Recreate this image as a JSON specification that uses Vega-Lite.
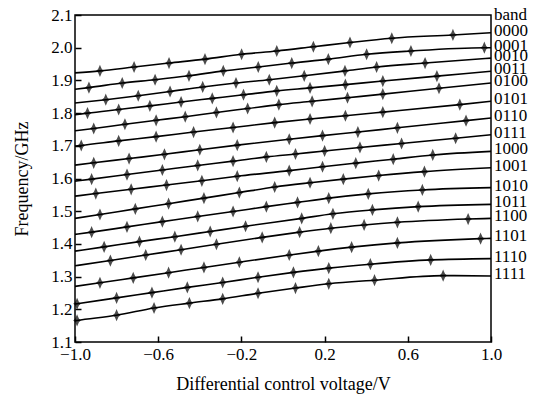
{
  "$schema": "https://vega.github.io/schema/vega-lite/v6.json",
  "autosize": "none",
  "width": 416,
  "height": 327,
  "padding": {"left": 75, "top": 15, "right": 50, "bottom": 58},
  "background": "white",
  "config": {
    "view": {"stroke": "black", "strokeWidth": 1.5},
    "font": "Liberation Serif"
  },
  "data": {"values": [
    {"b":"0000","x":-1,"y":1.923},{"b":"0000","x":-0.88,"y":1.929},{"b":"0000","x":-0.716,"y":1.941},{"b":"0000","x":-0.548,"y":1.953},{"b":"0000","x":-0.375,"y":1.965},{"b":"0000","x":-0.199,"y":1.98},{"b":"0000","x":-0.03,"y":1.99},{"b":"0000","x":0.146,"y":2.003},{"b":"0000","x":0.322,"y":2.016},{"b":"0000","x":0.523,"y":2.029},{"b":"0000","x":0.817,"y":2.039},{"b":"0000","x":1,"y":2.046},
    {"b":"0001","x":-1,"y":1.873},{"b":"0001","x":-0.933,"y":1.878},{"b":"0001","x":-0.773,"y":1.892},{"b":"0001","x":-0.615,"y":1.902},{"b":"0001","x":-0.452,"y":1.914},{"b":"0001","x":-0.287,"y":1.929},{"b":"0001","x":-0.119,"y":1.941},{"b":"0001","x":0.042,"y":1.953},{"b":"0001","x":0.218,"y":1.965},{"b":"0001","x":0.402,"y":1.98},{"b":"0001","x":0.615,"y":1.99},{"b":"0001","x":0.968,"y":2.0},{"b":"0001","x":1,"y":2.0},
    {"b":"0010","x":-1,"y":1.831},{"b":"0010","x":-0.852,"y":1.841},{"b":"0010","x":-0.696,"y":1.853},{"b":"0010","x":-0.543,"y":1.866},{"b":"0010","x":-0.386,"y":1.88},{"b":"0010","x":-0.226,"y":1.892},{"b":"0010","x":-0.066,"y":1.902},{"b":"0010","x":0.102,"y":1.914},{"b":"0010","x":0.298,"y":1.929},{"b":"0010","x":0.45,"y":1.941},{"b":"0010","x":0.683,"y":1.953},{"b":"0010","x":1,"y":1.968},
    {"b":"0011","x":-1,"y":1.795},{"b":"0011","x":-0.94,"y":1.8},{"b":"0011","x":-0.79,"y":1.811},{"b":"0011","x":-0.64,"y":1.822},{"b":"0011","x":-0.49,"y":1.834},{"b":"0011","x":-0.34,"y":1.845},{"b":"0011","x":-0.19,"y":1.856},{"b":"0011","x":-0.03,"y":1.868},{"b":"0011","x":0.13,"y":1.877},{"b":"0011","x":0.3,"y":1.887},{"b":"0011","x":0.48,"y":1.898},{"b":"0011","x":0.74,"y":1.913},{"b":"0011","x":1,"y":1.928},
    {"b":"0100","x":-1,"y":1.746},{"b":"0100","x":-0.91,"y":1.753},{"b":"0100","x":-0.76,"y":1.766},{"b":"0100","x":-0.61,"y":1.778},{"b":"0100","x":-0.47,"y":1.789},{"b":"0100","x":-0.32,"y":1.802},{"b":"0100","x":-0.17,"y":1.814},{"b":"0100","x":-0.02,"y":1.826},{"b":"0100","x":0.14,"y":1.836},{"b":"0100","x":0.31,"y":1.847},{"b":"0100","x":0.48,"y":1.858},{"b":"0100","x":0.75,"y":1.876},{"b":"0100","x":1,"y":1.892},
    {"b":"0101","x":-1,"y":1.699},{"b":"0101","x":-0.97,"y":1.701},{"b":"0101","x":-0.79,"y":1.715},{"b":"0101","x":-0.61,"y":1.728},{"b":"0101","x":-0.43,"y":1.742},{"b":"0101","x":-0.24,"y":1.756},{"b":"0101","x":-0.04,"y":1.771},{"b":"0101","x":0.13,"y":1.782},{"b":"0101","x":0.3,"y":1.792},{"b":"0101","x":0.48,"y":1.803},{"b":"0101","x":0.85,"y":1.826},{"b":"0101","x":1,"y":1.836},
    {"b":"0110","x":-1,"y":1.641},{"b":"0110","x":-0.91,"y":1.648},{"b":"0110","x":-0.74,"y":1.661},{"b":"0110","x":-0.57,"y":1.674},{"b":"0110","x":-0.4,"y":1.688},{"b":"0110","x":-0.22,"y":1.702},{"b":"0110","x":0.03,"y":1.72},{"b":"0110","x":0.19,"y":1.731},{"b":"0110","x":0.36,"y":1.742},{"b":"0110","x":0.55,"y":1.755},{"b":"0110","x":0.88,"y":1.777},{"b":"0110","x":1,"y":1.785},
    {"b":"0111","x":-1,"y":1.592},{"b":"0111","x":-0.92,"y":1.598},{"b":"0111","x":-0.75,"y":1.612},{"b":"0111","x":-0.58,"y":1.626},{"b":"0111","x":-0.41,"y":1.64},{"b":"0111","x":-0.24,"y":1.653},{"b":"0111","x":-0.08,"y":1.666},{"b":"0111","x":0.06,"y":1.675},{"b":"0111","x":0.2,"y":1.684},{"b":"0111","x":0.37,"y":1.695},{"b":"0111","x":0.57,"y":1.707},{"b":"0111","x":0.83,"y":1.723},{"b":"0111","x":1,"y":1.734},
    {"b":"1000","x":-1,"y":1.546},{"b":"1000","x":-0.9,"y":1.554},{"b":"1000","x":-0.73,"y":1.567},{"b":"1000","x":-0.56,"y":1.58},{"b":"1000","x":-0.39,"y":1.593},{"b":"1000","x":-0.22,"y":1.607},{"b":"1000","x":0.03,"y":1.624},{"b":"1000","x":0.19,"y":1.636},{"b":"1000","x":0.35,"y":1.647},{"b":"1000","x":0.53,"y":1.659},{"b":"1000","x":0.72,"y":1.672},{"b":"1000","x":1,"y":1.683},
    {"b":"1001","x":-1,"y":1.478},{"b":"1001","x":-0.88,"y":1.49},{"b":"1001","x":-0.71,"y":1.507},{"b":"1001","x":-0.55,"y":1.523},{"b":"1001","x":-0.38,"y":1.54},{"b":"1001","x":-0.21,"y":1.557},{"b":"1001","x":-0.04,"y":1.574},{"b":"1001","x":0.13,"y":1.587},{"b":"1001","x":0.29,"y":1.598},{"b":"1001","x":0.46,"y":1.609},{"b":"1001","x":0.68,"y":1.621},{"b":"1001","x":1,"y":1.633},
    {"b":"1010","x":-1,"y":1.429},{"b":"1010","x":-0.92,"y":1.436},{"b":"1010","x":-0.75,"y":1.452},{"b":"1010","x":-0.58,"y":1.468},{"b":"1010","x":-0.41,"y":1.484},{"b":"1010","x":-0.24,"y":1.499},{"b":"1010","x":-0.08,"y":1.514},{"b":"1010","x":0.07,"y":1.527},{"b":"1010","x":0.22,"y":1.54},{"b":"1010","x":0.41,"y":1.553},{"b":"1010","x":0.67,"y":1.565},{"b":"1010","x":1,"y":1.572},
    {"b":"1011","x":-1,"y":1.378},{"b":"1011","x":-0.86,"y":1.391},{"b":"1011","x":-0.69,"y":1.407},{"b":"1011","x":-0.52,"y":1.422},{"b":"1011","x":-0.35,"y":1.438},{"b":"1011","x":-0.18,"y":1.454},{"b":"1011","x":0.09,"y":1.478},{"b":"1011","x":0.24,"y":1.492},{"b":"1011","x":0.43,"y":1.504},{"b":"1011","x":0.65,"y":1.514},{"b":"1011","x":1,"y":1.521},
    {"b":"1100","x":-1,"y":1.333},{"b":"1100","x":-0.83,"y":1.349},{"b":"1100","x":-0.66,"y":1.366},{"b":"1100","x":-0.49,"y":1.382},{"b":"1100","x":-0.32,"y":1.399},{"b":"1100","x":-0.1,"y":1.42},{"b":"1100","x":0.08,"y":1.436},{"b":"1100","x":0.23,"y":1.448},{"b":"1100","x":0.39,"y":1.458},{"b":"1100","x":0.55,"y":1.466},{"b":"1100","x":0.89,"y":1.476},{"b":"1100","x":1,"y":1.478},
    {"b":"1101","x":-1,"y":1.27},{"b":"1101","x":-0.88,"y":1.281},{"b":"1101","x":-0.72,"y":1.296},{"b":"1101","x":-0.55,"y":1.312},{"b":"1101","x":-0.38,"y":1.328},{"b":"1101","x":-0.21,"y":1.344},{"b":"1101","x":0.03,"y":1.366},{"b":"1101","x":0.17,"y":1.378},{"b":"1101","x":0.33,"y":1.39},{"b":"1101","x":0.55,"y":1.403},{"b":"1101","x":0.95,"y":1.416},{"b":"1101","x":1,"y":1.417},
    {"b":"1110","x":-1,"y":1.216},{"b":"1110","x":-0.99,"y":1.217},{"b":"1110","x":-0.8,"y":1.235},{"b":"1110","x":-0.63,"y":1.251},{"b":"1110","x":-0.46,"y":1.267},{"b":"1110","x":-0.29,"y":1.282},{"b":"1110","x":-0.12,"y":1.298},{"b":"1110","x":0.05,"y":1.313},{"b":"1110","x":0.22,"y":1.326},{"b":"1110","x":0.42,"y":1.338},{"b":"1110","x":0.71,"y":1.351},{"b":"1110","x":1,"y":1.355},
    {"b":"1111","x":-1,"y":1.165},{"b":"1111","x":-0.99,"y":1.166},{"b":"1111","x":-0.8,"y":1.182},{"b":"1111","x":-0.62,"y":1.204},{"b":"1111","x":-0.45,"y":1.219},{"b":"1111","x":-0.29,"y":1.232},{"b":"1111","x":-0.12,"y":1.249},{"b":"1111","x":0.06,"y":1.265},{"b":"1111","x":0.22,"y":1.278},{"b":"1111","x":0.44,"y":1.289},{"b":"1111","x":0.77,"y":1.303},{"b":"1111","x":1,"y":1.302}
  ]},
  "encoding": {
    "x": {"field": "x", "type": "quantitative",
      "scale": {"domain": [-1, 1], "nice": false, "zero": false},
      "axis": {"title": "Differential control voltage/V", "values": [-1, -0.6, -0.2, 0.2, 0.6, 1], "format": ".1f",
        "grid": false, "domain": false, "tickSize": -6, "tickColor": "black", "tickWidth": 1.5, "labelPadding": 10,
        "labelFlush": false, "labelOverlap": false,
        "labelFont": "Liberation Serif", "labelFontSize": 17, "labelColor": "black",
        "titleFont": "Liberation Serif", "titleFontSize": 18, "titleFontWeight": "normal", "titleColor": "black",
        "titleBaseline": "middle", "titleY": 42}},
    "y": {"field": "y", "type": "quantitative",
      "scale": {"domain": [1.1, 2.1], "nice": false, "zero": false},
      "axis": {"title": "Frequency/GHz", "values": [1.1, 1.2, 1.3, 1.4, 1.5, 1.6, 1.7, 1.8, 1.9, 2.0, 2.1], "format": ".1f",
        "grid": false, "domain": false, "tickSize": -6, "tickColor": "black", "tickWidth": 1.5, "labelPadding": 9,
        "labelFlush": false, "labelOverlap": false,
        "labelFont": "Liberation Serif", "labelFontSize": 17, "labelColor": "black",
        "titleFont": "Liberation Serif", "titleFontSize": 18, "titleFontWeight": "normal", "titleColor": "black",
        "titleBaseline": "middle", "titleX": -53}}
  },
  "layer": [
    {"mark": {"type": "line", "color": "black", "strokeWidth": 1.6, "interpolate": "monotone"},
     "encoding": {"detail": {"field": "b"}}},
    {"transform": [{"filter": "datum.x > -1 && datum.x < 1"}],
     "mark": {"type": "point", "shape": "M0,-1L0.3,-0.3L0.65,0L0.3,0.3L0,1L-0.3,0.3L-0.65,0L-0.3,-0.3Z", "filled": true, "color": "black", "size": 70, "stroke": "black", "strokeWidth": 1.5}},
    {"transform": [{"filter": "datum.x == 1"}],
     "mark": {"type": "text", "align": "left", "baseline": "middle", "dx": 3, "dy": -2, "font": "Liberation Serif", "fontSize": 17, "color": "black"},
     "encoding": {"text": {"field": "b"}}},
    {"data": {"values": [{"t": "band", "x": 1, "y": 2.1}]},
     "mark": {"type": "text", "align": "left", "baseline": "middle", "dx": 3, "dy": 0, "font": "Liberation Serif", "fontSize": 17, "color": "black"},
     "encoding": {"text": {"field": "t"}}}
  ]
}
